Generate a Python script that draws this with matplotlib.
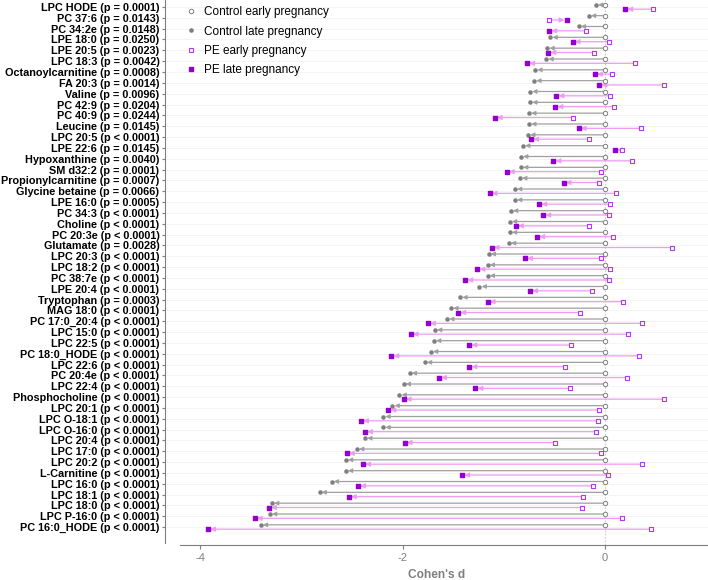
import matplotlib
matplotlib.use("Agg")
import matplotlib.pyplot as plt
from matplotlib.lines import Line2D
import numpy as np

plt.rcParams['font.family'] = ['Liberation Sans', 'DejaVu Sans']
plt.rcParams['axes.unicode_minus'] = False

metabolites = [
    "LPC HODE (p = 0.0001)", "PC 37:6 (p = 0.0143)", "PC 34:2e (p = 0.0148)",
    "LPE 18:0 (p = 0.0250)", "LPE 20:5 (p = 0.0023)", "LPC 18:3 (p = 0.0042)",
    "Octanoylcarnitine (p = 0.0008)", "FA 20:3 (p = 0.0014)", "Valine (p = 0.0096)",
    "PC 42:9 (p = 0.0204)", "PC 40:9 (p = 0.0244)", "Leucine (p = 0.0145)",
    "LPC 20:5 (p < 0.0001)", "LPE 22:6 (p = 0.0145)", "Hypoxanthine (p = 0.0040)",
    "SM d32:2 (p = 0.0001)", "Propionylcarnitine (p = 0.0007)", "Glycine betaine (p = 0.0066)",
    "LPE 16:0 (p = 0.0005)", "PC 34:3 (p < 0.0001)", "Choline (p < 0.0001)",
    "PC 20:3e (p < 0.0001)", "Glutamate (p = 0.0028)", "LPC 20:3 (p < 0.0001)",
    "LPC 18:2 (p < 0.0001)", "PC 38:7e (p < 0.0001)", "LPE 20:4 (p < 0.0001)",
    "Tryptophan (p = 0.0003)", "MAG 18:0 (p < 0.0001)", "PC 17:0_20:4 (p < 0.0001)",
    "LPC 15:0 (p < 0.0001)", "LPC 22:5 (p < 0.0001)", "PC 18:0_HODE (p < 0.0001)",
    "LPC 22:6 (p < 0.0001)", "PC 20:4e (p < 0.0001)", "LPC 22:4 (p < 0.0001)",
    "Phosphocholine (p < 0.0001)", "LPC 20:1 (p < 0.0001)", "LPC O-18:1 (p < 0.0001)",
    "LPC O-16:0 (p < 0.0001)", "LPC 20:4 (p < 0.0001)", "LPC 17:0 (p < 0.0001)",
    "LPC 20:2 (p < 0.0001)", "L-Carnitine (p < 0.0001)", "LPC 16:0 (p < 0.0001)",
    "LPC 18:1 (p < 0.0001)", "LPC 18:0 (p < 0.0001)", "LPC P-16:0 (p < 0.0001)",
    "PC 16:0_HODE (p < 0.0001)",
]

# control early pregnancy is the reference (d = 0)
control_early = [0.0] * len(metabolites)
control_late = [
    -0.09, -0.16, -0.26, -0.54, -0.57, -0.58, -0.69, -0.70, -0.74,
    -0.74, -0.75, -0.75, -0.76, -0.81, -0.83, -0.83, -0.84, -0.89,
    -0.89, -0.93, -0.94, -0.94, -0.95, -1.15, -1.16, -1.16, -1.24,
    -1.43, -1.52, -1.56, -1.68, -1.69, -1.72, -1.78, -1.93, -1.99,
    -2.03, -2.10, -2.19, -2.19, -2.37, -2.45, -2.56, -2.56, -2.70,
    -2.82, -3.29, -3.31, -3.40,
]
pe_early = [
    0.47, -0.55, -0.19, 0.04, -0.11, 0.30, 0.07, 0.58, 0.045,
    0.09, -0.32, 0.36, -0.16, 0.17, 0.27, -0.035, -0.055, 0.11,
    0.05, 0.035, -0.16, 0.08, 0.66, -0.04, 0.05, 0.035, -0.13,
    0.18, -0.25, 0.37, 0.23, -0.335, 0.34, -0.40, 0.22, -0.345,
    0.58, -0.06, -0.07, -0.086, -0.49, -0.035, 0.37, 0.03, -0.12,
    -0.22, -0.23, 0.17, 0.45,
]
pe_late = [
    0.20, -0.38, -0.55, -0.32, -0.56, -0.77, -0.10, -0.055, -0.48,
    -0.49, -1.09, -0.26, -0.73, 0.10, -0.51, -0.97, -0.41, -1.14,
    -0.65, -0.61, -0.88, -0.67, -1.12, -0.79, -1.26, -1.38, -0.74,
    -1.16, -1.45, -1.75, -1.92, -1.34, -2.11, -1.34, -1.64, -1.28,
    -1.99, -2.14, -2.41, -2.37, -1.98, -2.55, -2.39, -1.41, -2.44,
    -2.53, -3.32, -3.46, -3.92,
]

grey_pt = "#7f7f7f"
grey_seg = "#a0a0a0"
pe_pt = "#9400D3"
pe_open = "#B23AEE"
pe_seg = "#EE9CF2"

fig = plt.figure(figsize=(7.08, 5.80), dpi=100)
ax = fig.add_axes([165 / 708, 1 - 545 / 580, 543 / 708, 545 / 580])

rows = np.arange(len(metabolites))
y_ctrl = rows - 0.2
y_pe = rows + 0.2

for r in rows:
    ax.axhline(r, color="#f2f2f2", lw=0.6, zorder=0)
ax.axvline(0, color="#cccccc", lw=0.8, ls=(0, (1.5, 1.5)), zorder=0)

for i in rows:
    ax.annotate("", xy=(control_late[i], y_ctrl[i]), xytext=(control_early[i], y_ctrl[i]),
                arrowprops=dict(arrowstyle="-|>", color=grey_seg, lw=0.9,
                                mutation_scale=6, shrinkA=0, shrinkB=1.5), zorder=2)
    ax.annotate("", xy=(pe_late[i], y_pe[i]), xytext=(pe_early[i], y_pe[i]),
                arrowprops=dict(arrowstyle="-|>", color=pe_seg, lw=0.9,
                                mutation_scale=7, shrinkA=0, shrinkB=1.5), zorder=2)

ax.scatter(control_early, y_ctrl, s=10, facecolors="white", edgecolors=grey_pt, linewidths=0.7, zorder=3)
ax.scatter(control_late, y_ctrl, s=5, color=grey_pt, zorder=3)
ax.scatter(pe_early, y_pe, s=12, marker="s", facecolors="white", edgecolors=pe_open, linewidths=0.8, zorder=3)
ax.scatter(pe_late, y_pe, s=10, marker="s", color=pe_pt, zorder=3)

ax.set_xlim(-4.346, 1.017)
ax.set_ylim(49.66, -0.646)
ax.set_yticks(rows)
ax.set_yticklabels(metabolites, fontsize=7.8, fontweight="bold", color="black")
ax.set_xticks([-4, -2, 0])
ax.tick_params(axis="x", colors="#7f7f7f", labelsize=8, length=3, width=0.8, pad=3)
ax.tick_params(axis="y", color="#7f7f7f", length=2.5, width=0.8, pad=1.5)
ax.set_xlabel("Cohen's d", fontsize=8.6, fontweight="bold", color="#7f7f7f", labelpad=4)

for s in ["top", "right"]:
    ax.spines[s].set_visible(False)
ax.spines["left"].set_color("#7f7f7f")
ax.spines["bottom"].set_color("#7f7f7f")
ax.spines["left"].set_linewidth(0.8)
ax.spines["bottom"].set_linewidth(0.8)
ax.spines["left"].set_bounds(49.5, -0.646)
ax.spines["bottom"].set_bounds(-4.2, 1.017)

handles = [
    Line2D([], [], ls="none", marker="o", ms=3.2, mfc="white", mec=grey_pt, mew=0.7),
    Line2D([], [], ls="none", marker="o", ms=2.3, color=grey_pt),
    Line2D([], [], ls="none", marker="s", ms=3.4, mfc="white", mec=pe_open, mew=0.8),
    Line2D([], [], ls="none", marker="s", ms=3.2, color=pe_pt),
]
labels = ["Control early pregnancy", "Control late pregnancy", "PE early pregnancy", "PE late pregnancy"]
ax.legend(handles, labels, loc="upper left", bbox_to_anchor=(0.025, 1.0), frameon=False,
          fontsize=8.5, handlelength=1.0, handletextpad=0.6, labelspacing=0.6, borderaxespad=0.15)

fig.savefig("out.png", dpi=100)
